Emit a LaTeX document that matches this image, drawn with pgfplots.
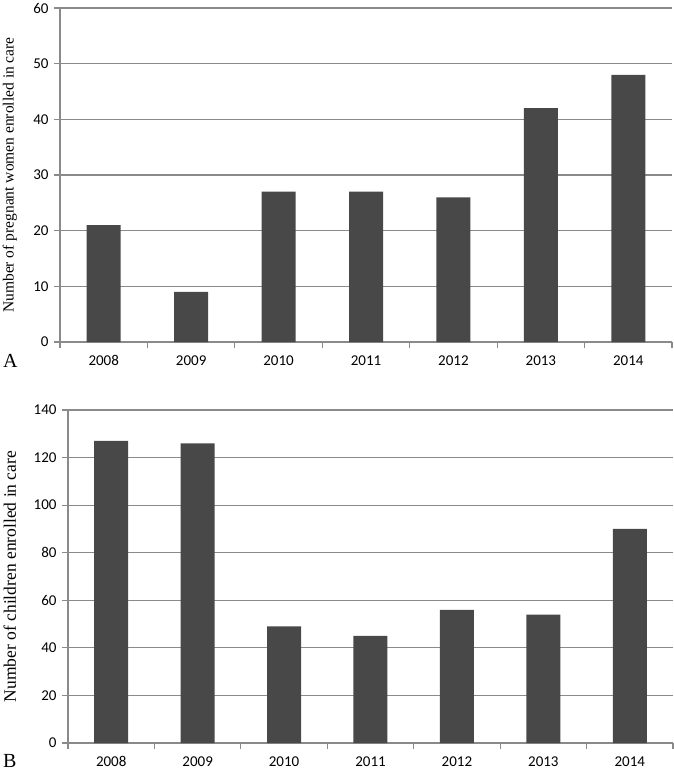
\documentclass[border=0pt]{standalone}
\usepackage{pgfplots}
\pgfplotsset{compat=1.18}
\usepackage{fontspec}
\setmainfont{Liberation Serif}
\newfontfamily\tickfont{Carlito}
\definecolor{barcol}{HTML}{484848}
\definecolor{gridcol}{HTML}{8A8A8A}
\pgfplotsset{
  panel/.style={
    scale only axis,
    ybar, bar width=34pt,
    xmin=-0.5, xmax=6.5,
    ymin=0,
    axis x line=bottom, axis y line=left,
    axis line style={gridcol, line width=1.2pt, -},
    xtick={0,...,6},
    xticklabels={2008,2009,2010,2011,2012,2013,2014},
    minor xtick={-0.5,0.5,...,6.5},
    major x tick style={draw=none},
    minor x tick style={gridcol, line width=1.2pt},
    minor tick length=6pt,
    major tick length=6pt,
    tick align=outside,
    y tick style={gridcol, line width=1.2pt},
    ymajorgrids,
    grid style={gridcol, line width=1.2pt},
    /pgf/number format/assume math mode=true,
    tick label style={font=\tickfont\fontsize{15}{17}\selectfont, black},
    xticklabel style={yshift=-4pt},
    yticklabel style={xshift=-2pt},
    every axis y label/.style={rotate=90, anchor=center},
  }
}
\begin{document}
\begin{tikzpicture}[x=1pt,y=1pt]
\useasboundingbox (0,0) rectangle (674,-771);
\begin{axis}[panel,
  at={(60pt,-342pt)}, anchor=south west,
  width=612pt, height=334pt,
  ymax=60, ytick={0,10,...,60},
  ylabel={Number of pregnant women enrolled in care},
  ylabel style={font=\fontsize{15.5}{17}\selectfont},
  every axis y label/.append style={at={(axis description cs:-0.082,0.5)}},
]
\addplot[fill=barcol, draw=none] coordinates {(0,21) (1,9) (2,27) (3,27) (4,26) (5,42) (6,48)};
\end{axis}
\begin{axis}[panel,
  at={(68pt,-743pt)}, anchor=south west,
  width=605pt, height=333pt,
  ymax=140, ytick={0,20,...,140},
  ylabel={Number of children enrolled in care},
  ylabel style={font=\fontsize{17.5}{19}\selectfont},
  every axis y label/.append style={at={(axis description cs:-0.096,0.5)}},
]
\addplot[fill=barcol, draw=none] coordinates {(0,127) (1,126) (2,49) (3,45) (4,56) (5,54) (6,90)};
\end{axis}
\node[anchor=base west, inner sep=0pt, font=\fontsize{20}{22}\selectfont] at (3,-367) {A};
\node[anchor=base west, inner sep=0pt, font=\fontsize{20}{22}\selectfont] at (3,-767) {B};
\end{tikzpicture}
\end{document}
